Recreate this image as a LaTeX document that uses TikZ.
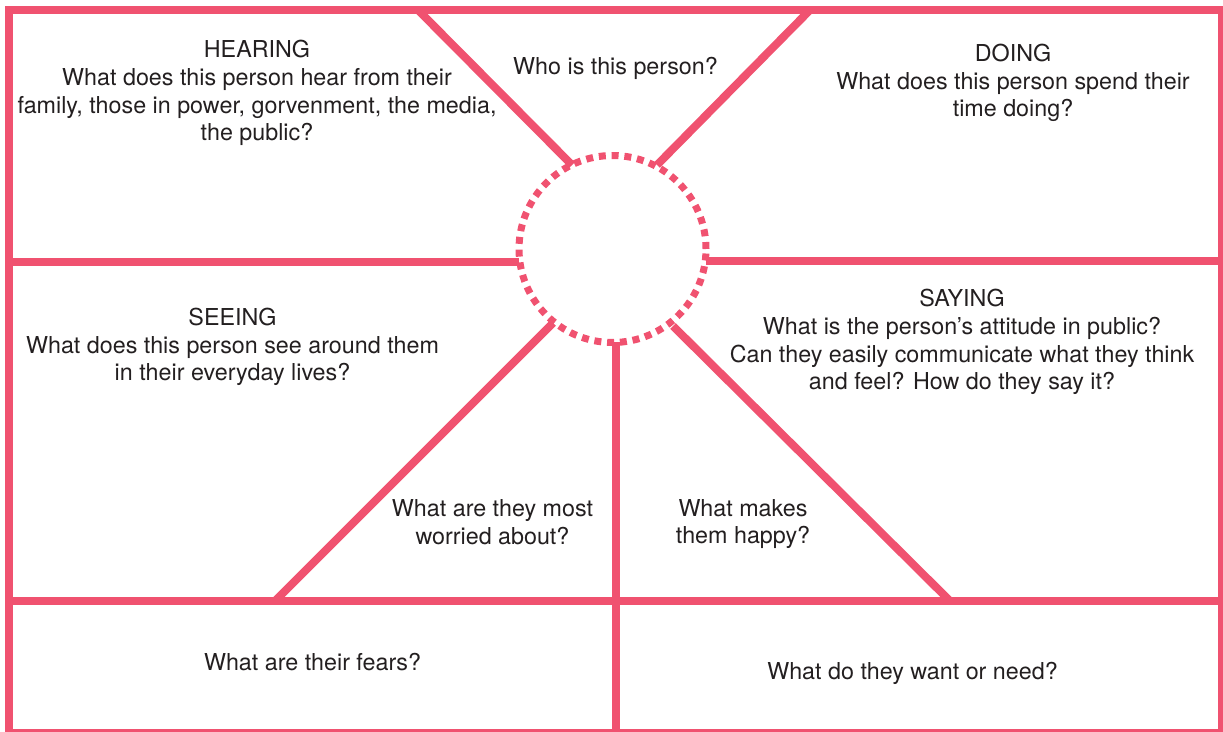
\documentclass[tikz,border=0pt]{standalone}
\usepackage{fontspec}
\setmainfont{TeX Gyre Heros}
\definecolor{mappink}{RGB}{240,82,112}
\definecolor{maptext}{RGB}{35,31,32}
\tikzset{
  wall/.style={draw=mappink, line width=8pt},
  prompt/.style={align=center, inner sep=0pt, text=maptext,
    font=\fontsize{23.3}{27.8}\selectfont}
}
\begin{document}
\begin{tikzpicture}[x=1pt, y=-1pt]
      \useasboundingbox (0,0) rectangle (1223,731);
      \begin{scope}
        \clip (0,0) rectangle (1223,731);
        % outer frame
        \draw[wall] (9,10) rectangle (1222,733);
        % centre circle
        \node (hub) [circle, minimum size=187pt, inner sep=0pt,
          draw=mappink, line width=7pt, dash pattern=on 7pt off 5.8pt] at (612.5,249) {};
        \coordinate (tl) at (418,10);
        \coordinate (tr) at (810,10);
        \coordinate (bl) at (275,601);
        \coordinate (br) at (950,601);
        \coordinate (ml) at (9,262);
        \coordinate (mr) at (1222,261);
        \coordinate (bm) at (615.5,733);
        \coordinate (lft) at (9,601);
        \coordinate (rgt) at (1222,601);
        \draw[wall] (tl) -- (572,165);
        \draw[wall] (tr) -- (657,165);
        \draw[wall] (bl) -- (553,323);
        \draw[wall] (br) -- (673,326);
        \draw[wall] (ml) -- (519,262);
        \draw[wall] (mr) -- (706,261);
        \draw[wall] (bm) -- (615.5,342);
        \draw[wall] (lft) -- (rgt);
      \end{scope}
      % texts
      \node (hearing) [prompt] at (257,93) {HEARING\\What does this person hear from their\\family, those in power, gorvenment, the media,\\the public?};
      \node (who) [prompt] at (615.5,68) {Who is this person?};
      \node (doing) [prompt] at (1013,83) {DOING\\What does this person spend their\\time doing?};
      \node (seeing) [prompt] at (232.5,347) {SEEING\\What does this person see around them\\in their everyday lives?};
      \node (saying) [prompt] at (962,342) {SAYING\\What is the person’s attitude in public?\\Can they easily communicate what they think\\and feel? How do they say it?};
      \node (worried) [prompt] at (492.5,522) {What are they most\\worried about?};
      \node (happy) [prompt] at (743,524) {What makes\\them happy?};
      \node (fears) [prompt] at (312.5,662) {What are their fears?};
      \node (wants) [prompt] at (912.5,673) {What do they want or need?};
    \end{tikzpicture}
\end{document}
